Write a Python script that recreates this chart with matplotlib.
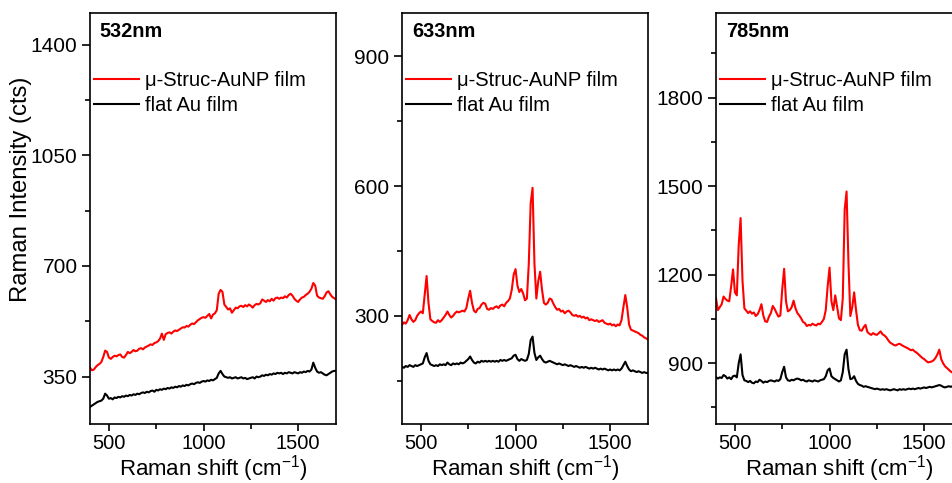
import numpy as np
import matplotlib
matplotlib.use("Agg")
import matplotlib.pyplot as plt
from matplotlib.ticker import MultipleLocator

plt.rcParams['font.family'] = ['Liberation Sans', 'DejaVu Sans']
plt.rcParams['mathtext.fontset'] = 'custom'
plt.rcParams['mathtext.rm'] = 'Liberation Sans'
plt.rcParams['mathtext.it'] = 'Liberation Sans:italic'

# Raman shift grid (cm-1), 10 cm-1 steps
shift = np.arange(400, 1701, 10)

labels = ['\u03bc-Struc-AuNP film', 'flat Au film']
lasers = ['532nm', '633nm', '785nm']

# ---- 532 nm ----
struc_532 = [
    378, 370, 372, 380, 386, 390, 396, 412, 432, 428,
    410, 406, 412, 416, 414, 418, 420, 412, 410, 418,
    428, 424, 428, 434, 430, 432, 438, 440, 436, 442,
    445, 448, 452, 450, 456, 458, 462, 470, 486, 466,
    484, 488, 490, 486, 492, 496, 494, 498, 502, 506,
    505, 510, 508, 514, 518, 516, 522, 528, 532, 536,
    538, 536, 542, 548, 534, 546, 550, 560, 612, 624,
    618, 578, 570, 562, 566, 552, 560, 568, 566, 572,
    574, 570, 576, 572, 578, 574, 568, 576, 580, 578,
    582, 594, 590, 586, 592, 588, 596, 590, 598, 600,
    596, 600, 598, 604, 600, 608, 612, 606, 596, 590,
    586, 594, 600, 602, 608, 612, 618, 628, 646, 638,
    606, 600, 598, 596, 604, 616, 620, 610, 602, 598,
    594]
flat_532 = [
    254, 258, 262, 266, 270, 272, 274, 280, 296, 290,
    280, 282, 278, 284, 282, 286, 284, 288, 286, 290,
    288, 292, 290, 294, 292, 296, 294, 298, 300, 298,
    302, 300, 304, 306, 302, 308, 306, 310, 308, 312,
    310, 314, 312, 316, 314, 318, 316, 320, 318, 322,
    320, 324, 322, 326, 328, 326, 330, 332, 330, 334,
    336, 334, 338, 336, 340, 338, 342, 346, 360, 368,
    358, 350, 348, 346, 348, 344, 346, 348, 344, 346,
    348, 344, 346, 342, 344, 346, 348, 344, 350, 348,
    350, 354, 352, 356, 354, 358, 356, 360, 358, 362,
    360, 362, 358, 362, 360, 364, 362, 360, 364, 362,
    360, 364, 362, 366, 364, 368, 366, 372, 394, 378,
    366, 362, 364, 360, 356, 354, 358, 362, 366, 368,
    368]

# ---- 633 nm ----
struc_633 = [
    279, 285, 282, 290, 302, 292, 286, 290, 300, 306,
    310, 306, 350, 392, 330, 292, 288, 285, 284, 290,
    286, 290, 296, 302, 310, 302, 296, 300, 306, 310,
    308, 310, 312, 310, 318, 340, 358, 330, 312, 308,
    316, 318, 326, 330, 328, 316, 314, 318, 316, 320,
    322, 318, 324, 326, 322, 330, 334, 340, 360, 395,
    408, 370, 355, 362, 352, 336, 340, 420, 560, 596,
    420, 340, 380, 402, 360, 330, 326, 330, 340, 338,
    328, 320, 314, 316, 310, 312, 306, 310, 312, 308,
    302, 300, 302, 298, 300, 296, 298, 294, 296, 290,
    292, 290, 288, 290, 286, 288, 290, 284, 282, 280,
    282, 278, 280, 276, 280, 278, 290, 320, 348, 320,
    280, 268, 266, 264, 262, 260, 256, 254, 250, 248,
    245]
flat_633 = [
    182, 180, 184, 182, 186, 184, 182, 186, 184, 186,
    188, 190, 204, 214, 196, 188, 186, 184, 186, 184,
    188, 186, 188, 186, 192, 188, 186, 190, 188, 190,
    188, 192, 190, 192, 196, 200, 206, 198, 192, 190,
    194, 192, 196, 194, 196, 194, 196, 194, 196, 194,
    196, 194, 198, 196, 198, 196, 198, 200, 202, 208,
    210, 200, 196, 200, 198, 196, 198, 212, 244, 252,
    214, 198, 204, 208, 200, 194, 192, 194, 196, 194,
    192, 190, 188, 190, 188, 186, 188, 186, 184, 186,
    184, 182, 184, 182, 180, 182, 180, 182, 180, 178,
    180, 178, 180, 178, 176, 178, 176, 178, 176, 174,
    176, 174, 176, 174, 176, 174, 178, 186, 194, 184,
    176, 172, 174, 172, 170, 172, 170, 168, 170, 168,
    168]

# ---- 785 nm ----
struc_785 = [
    1120, 1080, 1090, 1100, 1126, 1118, 1112, 1110, 1160, 1218,
    1140, 1130, 1300, 1392, 1180, 1086, 1078, 1070, 1076, 1068,
    1072, 1060, 1066, 1080, 1100, 1062, 1042, 1040, 1058, 1070,
    1094, 1084, 1070, 1058, 1062, 1150, 1220, 1110, 1076, 1080,
    1090, 1112, 1086, 1070, 1062, 1052, 1040, 1036, 1026, 1030,
    1028, 1034, 1030, 1028, 1034, 1032, 1040, 1050, 1080, 1160,
    1224, 1110, 1080, 1130, 1090, 1052, 1046, 1120, 1420, 1482,
    1240, 1060, 1090, 1140, 1080, 1030, 1012, 1010, 1022, 1030,
    1006, 1000, 996, 1002, 998, 996, 1002, 1008, 998, 994,
    988, 978, 970, 966, 962, 960, 964, 966, 962, 958,
    955, 952, 948, 944, 946, 940, 936, 930, 924, 918,
    914, 908, 903, 904, 906, 910, 918, 930, 946, 914,
    900, 890, 884, 878, 872, 868, 864, 860, 858, 854,
    850]
flat_785 = [
    853, 848, 852, 850, 860, 856, 848, 852, 846, 856,
    858, 852, 900, 930, 860, 842, 840, 836, 840, 834,
    832, 838, 836, 844, 840, 834, 838, 836, 840, 842,
    840, 838, 842, 840, 846, 870, 888, 852, 842, 840,
    844, 842, 846, 848, 846, 842, 844, 840, 838, 842,
    840, 838, 842, 840, 838, 842, 844, 846, 856, 876,
    882, 856, 850, 846, 842, 838, 842, 870, 930, 946,
    880, 846, 848, 856, 840, 830, 826, 824, 820, 822,
    820, 818, 816, 814, 812, 814, 812, 810, 812, 810,
    812, 810, 808, 810, 812, 810, 808, 812, 810, 812,
    810, 812, 814, 812, 814, 812, 814, 816, 814, 816,
    818, 816, 818, 820, 818, 820, 822, 824, 826, 824,
    820, 818, 820, 822, 820, 822, 820, 822, 820, 822,
    820]

spectra = [(struc_532, flat_532), (struc_633, flat_633), (struc_785, flat_785)]
ylims = [(200, 1500), (50, 1000), (694, 2087)]
ymajor = [350, 300, 300]

fig = plt.figure(figsize=(9.52, 4.83), dpi=100)
lefts = [90, 402, 716]

for i in range(3):
    ax = fig.add_axes([lefts[i] / 952, 1 - 424 / 483, 246 / 952, 411 / 483])
    red, black = spectra[i]
    ax.plot(shift, red, color='#ff0000', lw=1.5, label=labels[0])
    ax.plot(shift, black, color='black', lw=1.5, label=labels[1])
    ax.set_xlim(400, 1700)
    ax.set_ylim(*ylims[i])
    ax.xaxis.set_major_locator(MultipleLocator(500))
    ax.xaxis.set_minor_locator(MultipleLocator(250))
    ax.yaxis.set_major_locator(MultipleLocator(ymajor[i]))
    ax.yaxis.set_minor_locator(MultipleLocator(ymajor[i] / 2))
    ax.tick_params(which='both', direction='out', top=False, right=False,
                   width=1.2, labelsize=15)
    ax.tick_params(which='major', length=6, pad=3)
    ax.tick_params(axis='x', which='major', length=5, pad=2, labelsize=14.5)
    ax.tick_params(which='minor', length=3.5)
    for s in ax.spines.values():
        s.set_linewidth(1.2)
    ax.set_xlabel('Raman shift (cm$^{-1}$)', fontsize=16, labelpad=0)
    ax.text(0.04, 0.954, lasers[i], transform=ax.transAxes, fontsize=14.3,
            fontweight='bold', va='center', ha='left')
    ax.legend(loc='upper left', bbox_to_anchor=(0.015, 0.858), frameon=False,
              fontsize=14.5, handlelength=2.25, handletextpad=0.3,
              labelspacing=0.3, borderpad=0, borderaxespad=0)

fig.text(0.022, 0.609, 'Raman Intensity (cts)', rotation=90, fontsize=17.2,
         ha='center', va='center')

fig.savefig('out.png', dpi=100)
